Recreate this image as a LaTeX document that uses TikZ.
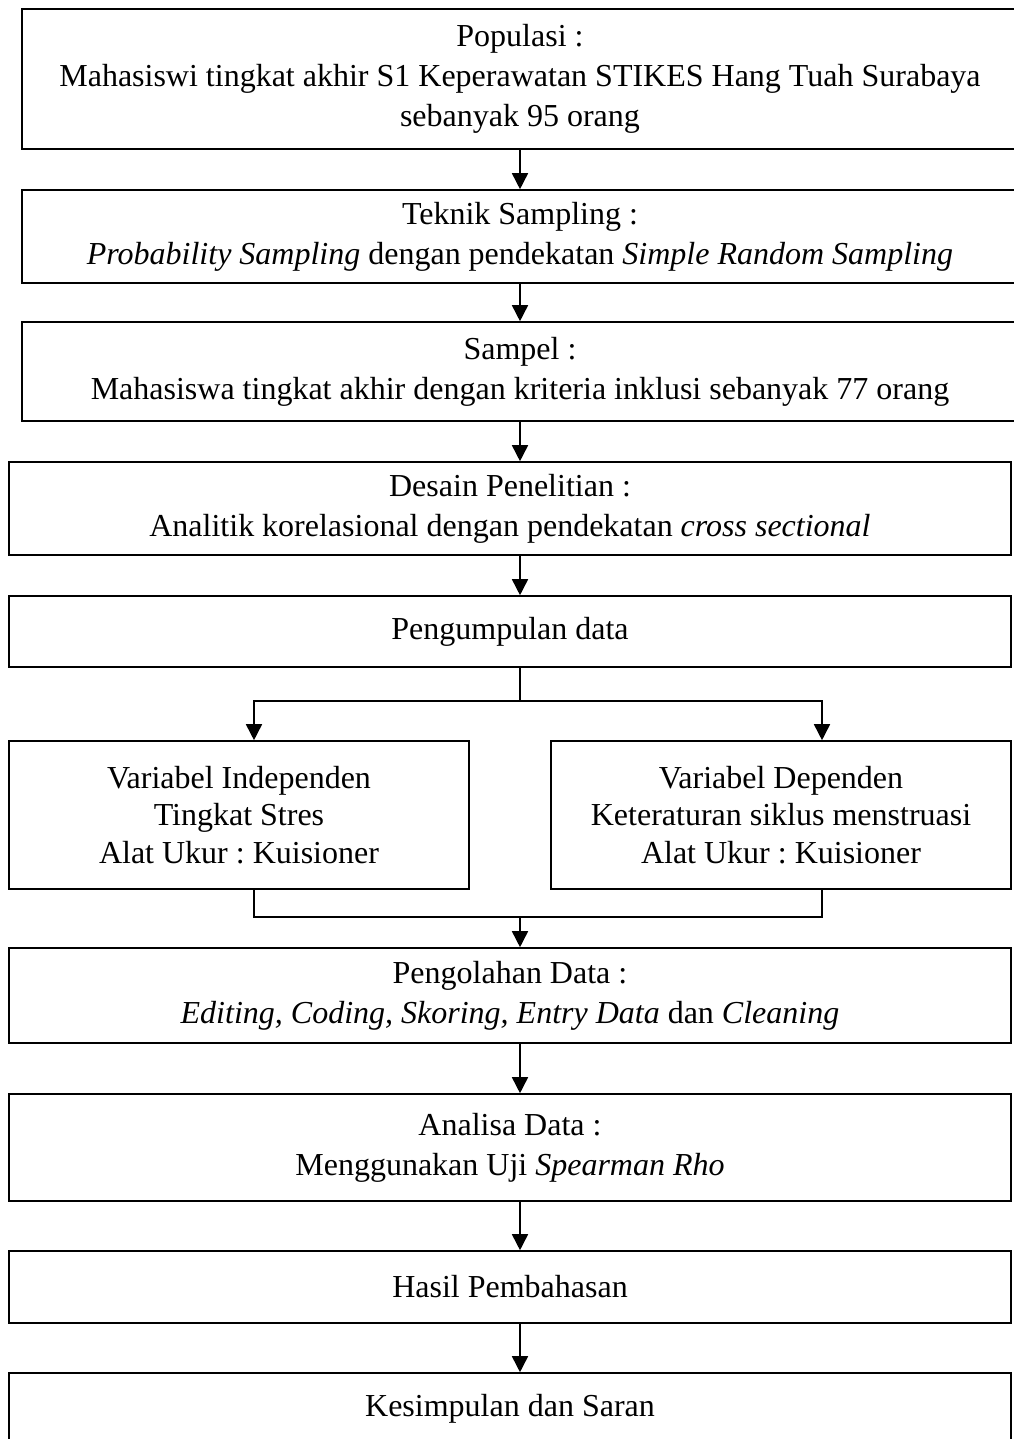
\documentclass[tikz,border=0pt]{standalone}
\usepackage{fontspec}
\setmainfont{Liberation Serif}
\usetikzlibrary{arrows.meta,calc}
\tikzset{
  box/.style={draw, line width=1.2pt, inner sep=0pt, align=center,
    font=\fontsize{24}{30}\selectfont\frenchspacing},
  varbox/.style={font=\fontsize{24}{28}\selectfont\frenchspacing},
  conn/.style={line width=1.2pt},
  arr/.style={conn, -{Triangle[width=12pt,length=12pt]}},
}
\newcommand{\bx}[7][]{% style, name, left, top, right, bottom, text
  \node[box, #1, minimum width={(#5-#3)*0.75pt}, minimum height={(#6-#4)*0.75pt}]
    (#2) at ({(#3+#5)/2},{(#4+#6)/2}) {#7};}
\begin{document}
\begin{tikzpicture}[x=0.75pt,y=-0.75pt]
\useasboundingbox (0,0) rectangle (1014,1439);
\coordinate (axis) at (520,0);
\coordinate (lx) at (254,0);
\coordinate (rx) at (822,0);
\bx{b1}{22}{9}{1018}{149}{Populasi :\\Mahasiswi tingkat akhir S1 Keperawatan STIKES Hang Tuah Surabaya\\sebanyak 95 orang}
\bx{b2}{22}{190}{1018}{283}{Teknik Sampling :\\\textit{Probability Sampling} dengan pendekatan \textit{Simple Random Sampling}}
\bx{b3}{22}{322}{1018}{421}{Sampel :\\Mahasiswa tingkat akhir dengan kriteria inklusi sebanyak 77 orang}
\bx{b4}{9}{462}{1011}{555}{Desain Penelitian :\\Analitik korelasional dengan pendekatan \textit{cross sectional}}
\bx{b5}{9}{596}{1011}{667}{Pengumpulan data}
\bx[varbox]{b6}{9}{741}{469}{889}{Variabel Independen\\Tingkat Stres\\Alat Ukur : Kuisioner}
\bx[varbox]{b7}{551}{741}{1011}{889}{Variabel Dependen\\Keteraturan siklus menstruasi\\Alat Ukur : Kuisioner}
\bx{b8}{9}{948}{1011}{1043}{Pengolahan Data :\\\textit{Editing, Coding, Skoring, Entry Data} dan \textit{Cleaning}}
\bx{b9}{9}{1094}{1011}{1201}{Analisa Data :\\Menggunakan Uji \textit{Spearman Rho}}
\bx{b10}{9}{1251}{1011}{1323}{Hasil Pembahasan}
\bx{b11}{9}{1373}{1011}{1444}{Kesimpulan dan Saran}
\coordinate (split) at (520,701);
\coordinate (join) at (520,917);
\draw[arr] (b1.south -| axis) -- (b2.north -| axis);
\draw[arr] (b2.south -| axis) -- (b3.north -| axis);
\draw[arr] (b3.south -| axis) -- (b4.north -| axis);
\draw[arr] (b4.south -| axis) -- (b5.north -| axis);
\draw[conn] (b5.south -| axis) -- (split);
\draw[arr] (split) -| (b6.north -| lx);
\draw[arr] (split) -| (b7.north -| rx);
\draw[conn] (b6.south -| lx) |- (join) -| (b7.south -| rx);
\draw[arr] (join) -- (b8.north -| axis);
\draw[arr] (b8.south -| axis) -- (b9.north -| axis);
\draw[arr] (b9.south -| axis) -- (b10.north -| axis);
\draw[arr] (b10.south -| axis) -- (b11.north -| axis);
\end{tikzpicture}
\end{document}
